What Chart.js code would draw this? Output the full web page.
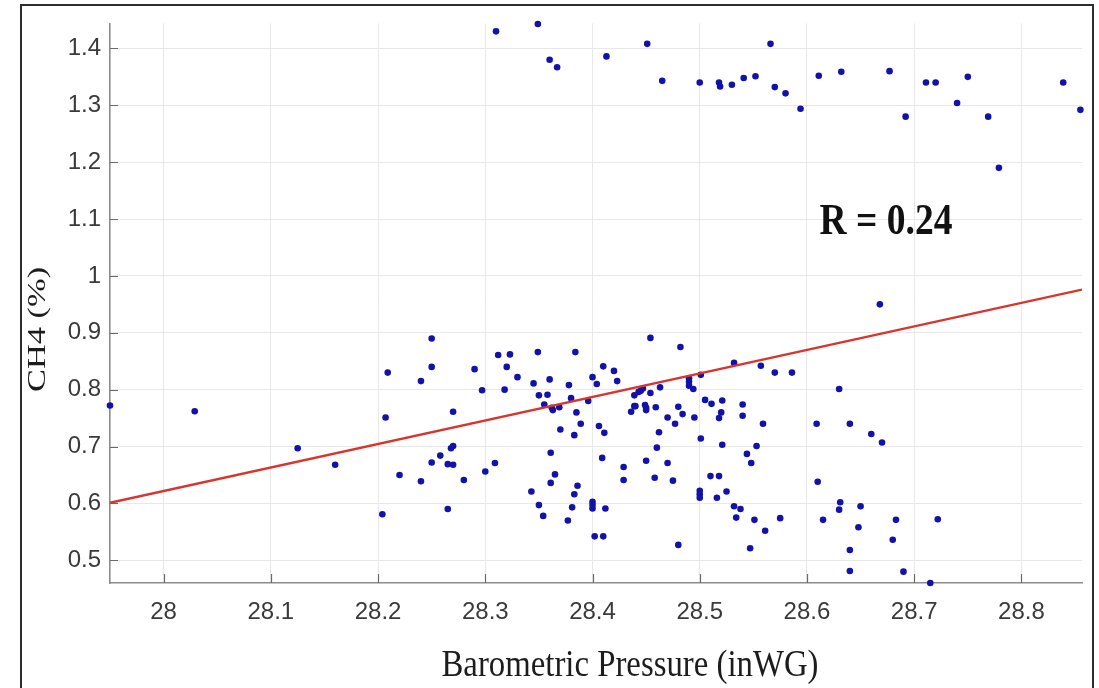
<!DOCTYPE html>
<html>
<head>
<meta charset="utf-8">
<script src="https://cdn.jsdelivr.net/npm/chart.js@4.4.1/dist/chart.umd.min.js"></script>
<style>
  html, body { margin:0; padding:0; background:#ffffff; overflow:hidden; }
  #wrap { position:relative; width:1099px; height:688px; }
  #frame { position:absolute; left:20px; top:4px; width:1074px; height:720px; box-sizing:border-box;
           border:2px solid #2e2e2e; pointer-events:none; }
  canvas { position:absolute; left:0; top:0; }
</style>
</head>
<body>
<div id="wrap">
  <canvas id="c" width="1099" height="688"></canvas>
  <div id="frame"></div>
</div>
<script>
// ---------- data ----------
const lowerX = [27.950,28.029,28.125,28.160,28.204,28.207,28.209,28.220,28.240,28.240,28.250,28.250,28.250,28.258,28.265,28.265,
 28.268,28.270,28.270,28.270,28.280,28.290,28.297,28.300,28.309,28.312,28.318,28.320,28.323,28.330,28.343,28.345,28.349,28.350,28.350,
 28.354,28.355,28.358,28.360,28.361,28.361,28.362,28.363,28.365,28.369,28.370,28.377,28.378,28.380,28.381,28.383,28.383,28.384,28.385,28.386,28.389,
 28.396,28.400,28.400,28.400,28.400,28.402,28.404,28.406,28.409,28.410,28.410,28.411,28.412,28.420,28.423,28.429,28.429,28.436,28.439,28.439,
 28.440,28.443,28.445,28.447,28.449,28.450,28.450,28.450,28.454,28.454,28.458,28.459,28.460,28.462,28.463,28.470,28.470,28.475,28.477,28.480,
 28.480,28.482,28.484,28.490,28.490,28.490,28.494,28.495,28.500,28.500,28.500,28.501,28.501,28.505,28.510,28.511,28.516,28.518,28.518,28.520,
 28.521,28.521,28.525,28.532,28.532,28.534,28.538,28.540,28.540,28.544,28.548,28.547,28.551,28.553,28.557,28.559,28.561,28.570,28.575,28.586,
 28.668,28.630,28.609,28.640,28.660,28.670,28.610,28.631,28.630,28.650,28.615,28.683,28.722,28.648,28.680,28.640,28.640,28.690,28.715];
const lowerY = [0.772,0.762,0.697,0.668,0.581,0.751,0.830,0.650,0.639,0.815,0.890,0.840,0.672,0.684,0.669,0.590,
 0.697,0.701,0.668,0.761,0.641,0.836,0.799,0.656,0.671,0.861,0.800,0.840,0.862,0.822,0.621,0.811,0.866,0.597,0.790,
 0.578,0.774,0.791,0.818,0.689,0.636,0.768,0.764,0.651,0.769,0.730,0.570,0.808,0.785,0.593,0.616,0.720,0.866,0.760,0.631,0.740,
 0.780,0.822,0.603,0.597,0.591,0.542,0.810,0.736,0.680,0.542,0.841,0.724,0.591,0.833,0.815,0.664,0.641,0.761,0.771,0.790,
 0.771,0.796,0.798,0.802,0.773,0.768,0.764,0.675,0.794,0.891,0.645,0.769,0.698,0.725,0.804,0.671,0.751,0.640,0.740,0.770,
 0.527,0.875,0.757,0.820,0.814,0.807,0.801,0.751,0.622,0.616,0.610,0.826,0.714,0.782,0.648,0.775,0.610,0.750,0.648,0.760,
 0.703,0.781,0.621,0.595,0.847,0.575,0.590,0.774,0.754,0.687,0.671,0.521,0.571,0.701,0.842,0.740,0.552,0.830,0.574,0.830,
 0.950,0.801,0.740,0.740,0.722,0.707,0.638,0.602,0.589,0.595,0.571,0.571,0.572,0.558,0.536,0.518,0.481,0.480,0.460];
const upperX = [28.310,28.349,28.360,28.367,28.413,28.451,28.465,28.500,28.518,28.519,28.530,28.541,28.552,28.566,28.570,28.580,
 28.594,28.611,28.632,28.677,28.692,28.711,28.720,28.740,28.750,28.769,28.779,28.839,28.855];
const upperY = [1.430,1.443,1.380,1.367,1.386,1.408,1.343,1.340,1.340,1.333,1.336,1.348,1.351,1.408,1.332,1.321,
 1.294,1.352,1.359,1.360,1.280,1.340,1.340,1.304,1.350,1.280,1.190,1.340,1.292];
const fitX = [27.950, 28.8565];
const fitY = [0.601, 0.976];
const xTickValues = [28, 28.1, 28.2, 28.3, 28.4, 28.5, 28.6, 28.7, 28.8];
const xTickLabels = ['28','28.1','28.2','28.3','28.4','28.5','28.6','28.7','28.8'];
const yTickValues = [0.5, 0.6, 0.7, 0.8, 0.9, 1.0, 1.1, 1.2, 1.3, 1.4];
const yTickLabels = ['0.5','0.6','0.7','0.8','0.9','1','1.1','1.2','1.3','1.4'];
const xTitle = 'Barometric Pressure (inWG)';
const yTitle = 'CH4 (%)';
const annotationText = 'R = 0.24';
const annotationPos = { x: 28.6117, y: 1.073 };
const xRange = [27.95, 28.8565];
const yRange = [0.46, 1.444];

// ---------- build ----------
const pts = [];
lowerX.forEach((x, i) => pts.push({ x: x, y: lowerY[i] }));
upperX.forEach((x, i) => pts.push({ x: x, y: upperY[i] }));
const fitPts = fitX.map((x, i) => ({ x: x, y: fitY[i] }));

function drawFitted(ctx, text, font, x, y, targetW, sy, rotate, align) {
  ctx.save();
  ctx.font = font;
  const w = ctx.measureText(text).width;
  ctx.translate(x, y);
  if (rotate) ctx.rotate(-Math.PI / 2);
  ctx.scale(targetW / w, sy);
  ctx.textAlign = align || 'center';
  ctx.textBaseline = 'alphabetic';
  ctx.fillText(text, 0, 0);
  ctx.restore();
}

const overlay = {
  id: 'overlay',
  beforeDatasetsDraw(chart) {
    const { ctx, chartArea: a, scales } = chart;
    ctx.save();
    ctx.strokeStyle = '#6a6a6a';
    ctx.lineWidth = 1.2;
    ctx.beginPath();
    xTickValues.forEach(v => {
      const px = Math.round(scales.x.getPixelForValue(v)) + 0.5;
      ctx.moveTo(px, a.bottom); ctx.lineTo(px, a.bottom - 9);
    });
    yTickValues.forEach(v => {
      const py = Math.round(scales.y.getPixelForValue(v)) + 0.5;
      ctx.moveTo(a.left, py); ctx.lineTo(a.left + 8, py);
    });
    ctx.stroke();
    ctx.restore();
  },
  afterDraw(chart) {
    const { ctx, chartArea: a, scales } = chart;
    ctx.save();
    ctx.fillStyle = '#1c1c1c';
    // x axis title
    drawFitted(ctx, xTitle, '33px "Liberation Serif", "DejaVu Serif", serif', a.left + 520, a.bottom + 93, 377, 1.15, false, 'center');
    // y axis title
    drawFitted(ctx, yTitle, '25px "Liberation Serif", "DejaVu Serif", serif', a.left - 65, a.top + 306, 125, 1.0, true, 'center');
    // annotation
    ctx.fillStyle = '#111111';
    drawFitted(ctx, annotationText, 'bold 37px "Liberation Serif", "DejaVu Serif", serif',
      scales.x.getPixelForValue(annotationPos.x), scales.y.getPixelForValue(annotationPos.y), 133, 1.2, false, 'left');
    ctx.restore();
  }
};

const tickFont = { family: '"Liberation Sans", Arial, sans-serif', size: 24 };

new Chart(document.getElementById('c'), {
  type: 'scatter',
  data: {
    datasets: [
      {
        label: 'CH4',
        data: pts,
        showLine: false,
        pointRadius: 3.3,
        pointHoverRadius: 3.3,
        pointBackgroundColor: '#1212a8',
        pointBorderColor: '#1212a8',
        pointBorderWidth: 0,
        clip: false,
        order: 2
      },
      {
        label: 'Fit',
        data: fitPts,
        showLine: true,
        borderColor: '#d8352e',
        borderWidth: 2.4,
        pointRadius: 0,
        fill: false,
        order: 1
      }
    ]
  },
  options: {
    responsive: false,
    animation: false,
    devicePixelRatio: 1,
    layout: { padding: { top: 19, right: 17, left: 0, bottom: 0 } },
    plugins: { legend: { display: false }, tooltip: { enabled: false }, title: { display: false } },
    scales: {
      x: {
        type: 'linear',
        min: xRange[0], max: xRange[1],
        afterBuildTicks: s => { s.ticks = xTickValues.map(v => ({ value: v })); },
        afterFit: s => { s.height = 105; },
        grid: { color: '#e8e8e8', lineWidth: 1, drawTicks: false },
        border: { display: true, color: '#8c8c8c', width: 1.6 },
        ticks: {
          padding: 15, color: '#3a3a3a', font: tickFont, maxRotation: 0, autoSkip: false,
          callback: (v) => { const i = xTickValues.findIndex(t => Math.abs(t - v) < 1e-6); return i >= 0 ? xTickLabels[i] : ''; }
        }
      },
      y: {
        type: 'linear',
        min: yRange[0], max: yRange[1],
        afterBuildTicks: s => { s.ticks = yTickValues.map(v => ({ value: v })); },
        afterFit: s => { s.width = 110; },
        grid: { color: '#e8e8e8', lineWidth: 1, drawTicks: false },
        border: { display: true, color: '#8c8c8c', width: 1.6 },
        ticks: {
          padding: 9, color: '#3a3a3a', font: tickFont, autoSkip: false,
          callback: (v) => { const i = yTickValues.findIndex(t => Math.abs(t - v) < 1e-6); return i >= 0 ? yTickLabels[i] : ''; }
        }
      }
    }
  },
  plugins: [overlay]
});
</script>
</body>
</html>
